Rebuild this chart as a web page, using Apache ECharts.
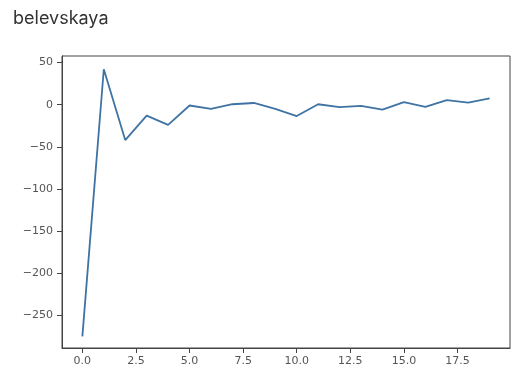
<!DOCTYPE html>
<html>
<head>
<meta charset="utf-8">
<script src="https://cdn.jsdelivr.net/npm/echarts@6/dist/echarts.min.js"></script>
<style>
html,body{margin:0;padding:0;background:#fff;}
#c{width:522px;height:385px;}
</style>
</head>
<body>
<div id="c"></div>
<script>
var titleText = "belevskaya";
var xValues = [0,1,2,3,4,5,6,7,8,9,10,11,12,13,14,15,16,17,18,19];
var yValues = [-275,42,-42,-13,-24,-1,-5,0.5,2,-5,-13.5,0.5,-3,-1.5,-6,3,-2.5,5.5,2.5,7.5];
var xTicks = [0,2.5,5,7.5,10,12.5,15,17.5];
var yTicks = [-250,-200,-150,-100,-50,0,50];

var chart = echarts.init(document.getElementById('c'), null, {renderer:'canvas'});
var fontFam = "DejaVu Sans, Liberation Sans, sans-serif";
var axisCol = '#444';
var labCol = '#555';
function fmtY(v){ return v < 0 ? '\u2212' + Math.abs(v) : String(v); }
chart.setOption({
  animation: false,
  backgroundColor: '#fff',
  title: {
    text: titleText, left: 8, top: 5,
    textStyle: {fontSize: 18, fontWeight: 'normal', color: '#333', fontFamily: "Inter, Noto Sans, sans-serif"}
  },
  grid: {left: 62, right: 12, top: 56, bottom: 37, show: true, borderColor: axisCol, borderWidth: 1},
  xAxis: {
    type: 'value', min: -0.95, max: 19.95,
    splitLine: {show: false},
    axisLine: {show: true, onZero: false, lineStyle: {color: axisCol}},
    axisTick: {show: true, length: 5, inside: false, customValues: xTicks, lineStyle: {color: axisCol}},
    axisLabel: {customValues: xTicks, margin: 8, color: labCol, fontSize: 11, fontFamily: fontFam,
      formatter: function(v){ return v.toFixed(1); }}
  },
  yAxis: {
    type: 'value', min: -288.75, max: 57.75,
    splitLine: {show: false},
    axisLine: {show: true, onZero: false, lineStyle: {color: axisCol}},
    axisTick: {show: true, length: 5, inside: false, customValues: yTicks, lineStyle: {color: axisCol}},
    axisLabel: {customValues: yTicks, margin: 9, color: labCol, fontSize: 11, fontFamily: fontFam,
      formatter: fmtY}
  },
  series: [{
    type: 'line',
    data: xValues.map(function(x, i){ return [x, yValues[i]]; }),
    showSymbol: false,
    symbol: 'none',
    lineStyle: {color: '#3f73a3', width: 1.8},
    itemStyle: {color: '#3f73a3'}
  }]
});
</script>
</body>
</html>
